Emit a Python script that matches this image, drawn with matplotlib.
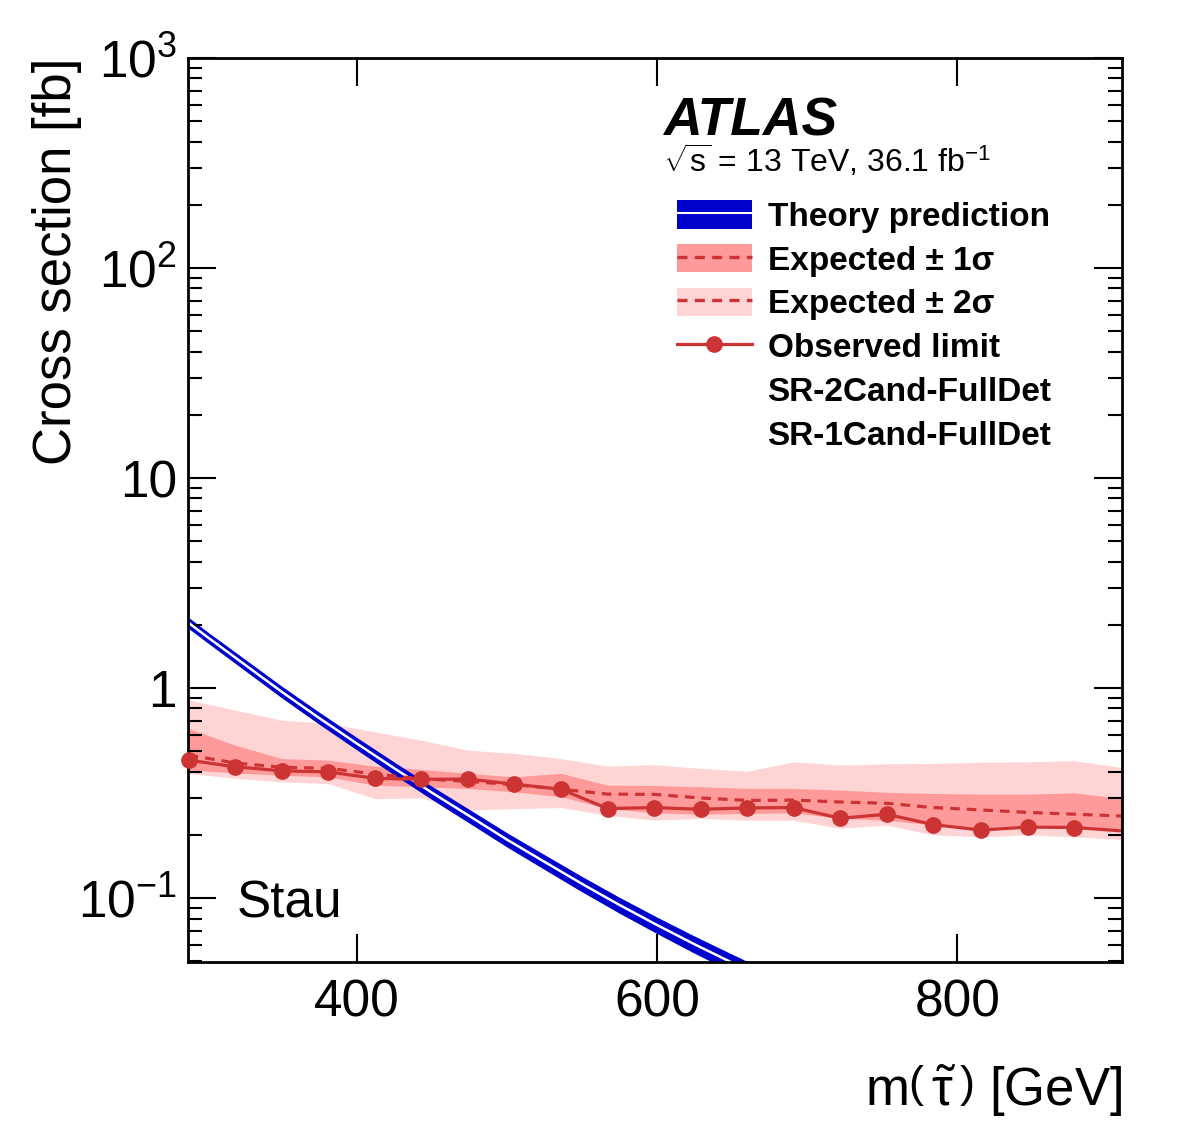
import numpy as np
import matplotlib
matplotlib.use('Agg')
import matplotlib.pyplot as plt
from matplotlib.patches import Patch
from matplotlib.lines import Line2D
from matplotlib.ticker import FixedLocator, FixedFormatter, LogLocator, NullFormatter, NullLocator

# stau mass points [GeV]
mass = [288, 319, 350, 381, 412, 443, 474, 505, 536, 567, 598,
        629, 660, 691, 722, 753, 784, 816, 847, 878, 910]
# observed and expected limits [fb]
obs = [0.454, 0.422, 0.404, 0.399, 0.372, 0.368, 0.369, 0.349, 0.330, 0.267, 0.270,
       0.265, 0.269, 0.270, 0.240, 0.251, 0.224, 0.211, 0.218, 0.217, 0.209]
exp = [0.48, 0.44, 0.42, 0.415, 0.39, 0.37, 0.36, 0.347, 0.330, 0.313, 0.312,
       0.300, 0.292, 0.293, 0.287, 0.283, 0.270, 0.263, 0.256, 0.251, 0.246]
exp_1up = [0.643, 0.535, 0.462, 0.454, 0.425, 0.41, 0.393, 0.378, 0.393, 0.345, 0.344,
           0.339, 0.333, 0.333, 0.327, 0.319, 0.315, 0.313, 0.313, 0.317, 0.298]
exp_1dn = [0.407, 0.395, 0.385, 0.378, 0.345, 0.339, 0.333, 0.321, 0.304, 0.267, 0.255,
           0.251, 0.253, 0.255, 0.240, 0.235, 0.223, 0.214, 0.223, 0.220, 0.214]
exp_2up = [0.877, 0.786, 0.704, 0.679, 0.619, 0.565, 0.506, 0.489, 0.462, 0.425, 0.432,
           0.415, 0.402, 0.446, 0.430, 0.436, 0.438, 0.444, 0.446, 0.451, 0.419]
exp_2dn = [0.393, 0.372, 0.358, 0.351, 0.298, 0.30, 0.263, 0.267, 0.270, 0.248, 0.235,
           0.240, 0.235, 0.235, 0.215, 0.223, 0.200, 0.196, 0.200, 0.196, 0.190]

# theory cross section
th_mass = [287, 300, 325, 350, 375, 400, 425, 450, 475, 500, 525,
           550, 575, 600, 625, 650, 675]
th_xsec = [2.07, 1.76, 1.30, 0.96, 0.72, 0.545, 0.415, 0.318, 0.246, 0.190, 0.149,
           0.117, 0.0928, 0.0745, 0.0603, 0.0493, 0.0405]
th_unc = [0.06, 0.06, 0.062, 0.064, 0.066, 0.068, 0.07, 0.072, 0.075, 0.078, 0.081,
          0.084, 0.087, 0.09, 0.094, 0.097, 0.10]

ytick_vals = [0.1, 1, 10, 100, 1000]
ytick_labels = [r'$10^{-1}$', '1', '10', r'$10^{2}$', r'$10^{3}$']

plt.rcParams['font.family'] = ['Liberation Sans', 'DejaVu Sans']
plt.rcParams['mathtext.fontset'] = 'custom'
plt.rcParams['mathtext.rm'] = 'Liberation Sans'
plt.rcParams['mathtext.it'] = 'Liberation Sans:italic'
plt.rcParams['mathtext.bf'] = 'Liberation Sans:bold'

blue = '#0000cc'
red = '#cc3333'
band1 = '#ff9a9a'
band2 = '#ffd4d4'
dash = (0, (3, 2.2))

fig = plt.figure(figsize=(11.82, 11.46), dpi=100)
ax = fig.add_axes([0.159, 0.1606, 0.790, 0.7888])

# bands
ax.fill_between(mass, exp_2dn, exp_2up, color=band2, lw=0)
ax.fill_between(mass, exp_1dn, exp_1up, color=band1, lw=0)

# theory band: blue with a white centre line
th = np.array(th_xsec)
unc = np.array(th_unc)
ax.fill_between(th_mass, th * (1 - unc), th * (1 + unc), color=blue, lw=0)
ax.plot(th_mass, th, color='white', lw=1.8)

# expected and observed
ax.plot(mass, exp, color=red, lw=2.3, ls=dash)
ax.plot(mass, obs, color=red, lw=2.3)
ax.plot(mass[:-1], obs[:-1], 'o', ms=11, color=red, clip_on=False, zorder=5)

ax.set_yscale('log')
ax.set_xlim(287.5, 909.5)
ax.set_ylim(0.0497, 1000)

ax.xaxis.set_major_locator(FixedLocator([400, 600, 800]))
ax.xaxis.set_minor_locator(NullLocator())
ax.yaxis.set_major_locator(FixedLocator(ytick_vals))
ax.yaxis.set_major_formatter(FixedFormatter(ytick_labels))
ax.yaxis.set_minor_locator(LogLocator(base=10.0, subs=np.arange(2, 10), numticks=30))
ax.yaxis.set_minor_formatter(NullFormatter())

ax.tick_params(which='both', direction='in', top=True, right=True, width=1.5)
ax.tick_params(which='major', length=20, labelsize=37)
ax.tick_params(which='minor', length=10)
ax.tick_params(axis='x', pad=12)
ax.tick_params(axis='y', pad=8)
for sp in ax.spines.values():
    sp.set_linewidth(2)

ax.set_ylabel('Cross section [fb]', fontsize=38, loc='top')
ax.yaxis.set_label_coords(-0.113, 1.0)
ax.set_xlabel(r'm$\left(\,\tilde{\mathrm{\tau}}\,\right)$ [GeV]', fontsize=38, loc='right')
ax.xaxis.set_label_coords(1.0, -0.111)

ax.text(0.5086, 0.9137, 'ATLAS', transform=ax.transAxes, fontsize=38.5,
        fontweight='bold', fontstyle='italic', va='baseline')
ax.text(0.5086, 0.874, r'$\sqrt{\mathrm{s}}$ = 13 TeV, 36.1 fb$^{\mathrm{-1}}$',
        transform=ax.transAxes, fontsize=23, va='baseline')
ax.text(0.052, 0.049, 'Stau', transform=ax.transAxes, fontsize=37, va='baseline')

handles = [
    (Patch(fc=blue, ec='none'), Line2D([], [], color='white', lw=1.5)),
    (Patch(fc=band1, ec='none'), Line2D([], [], color=red, lw=2.4, ls=dash)),
    (Patch(fc=band2, ec='none'), Line2D([], [], color=red, lw=2.4, ls=dash)),
    Line2D([], [], color=red, lw=2.3, marker='o', ms=11),
    Line2D([], [], ls='none'),
    Line2D([], [], ls='none'),
]
labels = ['Theory prediction', 'Expected \u00b1 1\u03c3', 'Expected \u00b1 2\u03c3',
          'Observed limit', 'SR-2Cand-FullDet', 'SR-1Cand-FullDet']
ax.legend(handles, labels, loc='upper left', bbox_to_anchor=(0.5236, 0.843),
          frameon=False, prop={'weight': 'bold', 'size': 24}, borderpad=0,
          borderaxespad=0, handlelength=2.25, handleheight=0.95, handletextpad=0.47,
          labelspacing=0.33, numpoints=1)

fig.savefig('out.png', dpi=100)
